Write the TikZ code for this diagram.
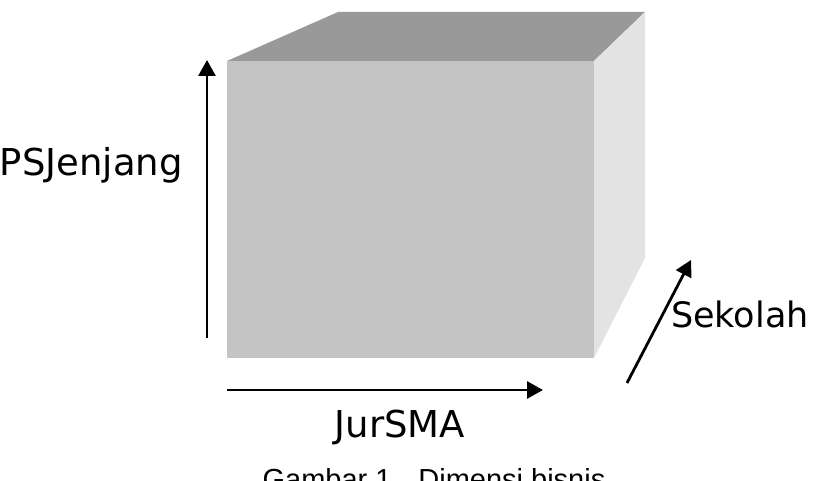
\documentclass[tikz,border=0pt]{standalone}
\usepackage{fontspec}
\setmainfont{DejaVu Sans}
\newfontfamily\captionfont{Liberation Sans}
\usetikzlibrary{arrows.meta, positioning}
\definecolor{topface}{HTML}{999999}
\definecolor{frontface}{HTML}{C4C4C4}
\definecolor{sideface}{HTML}{E3E3E3}

\begin{document}
\begin{tikzpicture}[
    x=1pt, y=-1pt,
    every node/.style={font=\fontsize{37}{40}\selectfont, inner sep=0pt},
    axis/.style={line width=2.8pt, -{Triangle[length=16pt, width=17pt]}}
]
\useasboundingbox (0,0) rectangle (815,481);
\clip (0,0) rectangle (815,481);

% cube corners
\coordinate (ftl) at (227,61);
\coordinate (ftr) at (594,61);
\coordinate (fbl) at (227,358);
\coordinate (fbr) at (594,358);
\coordinate (btl) at (338,12);
\coordinate (btr) at (645,12);
\coordinate (bbr) at (645,258);

\fill [topface] (ftl) -- (btl) -- (btr) -- (ftr) -- cycle;
\fill [sideface] (ftr) -- (btr) -- (bbr) -- (fbr) -- cycle;
\fill [frontface] (ftl) rectangle (fbr);

% axes
\coordinate (vstart) at (207,338);
\coordinate (vend) at (207,60);
\coordinate (hstart) at (227,390);
\coordinate (hend) at (543,390);
\coordinate (dstart) at (627,383);
\coordinate (dend) at (691,260);

\draw [axis] (vstart) -- (vend);
\draw [axis] (hstart) -- (hend);
\draw [axis] (dstart) -- (dend);

\node (psjenjang) [anchor=base east] at (183,176) {PSJenjang};
\node (jursma) [anchor=base] at (400,438) {JurSMA};
\node (sekolah) [anchor=base west, font=\fontsize{35}{40}\selectfont] at (671,328) {Sekolah};
\node (caption) [anchor=base, font=\captionfont\fontsize{29}{32}\selectfont] at (434,489) {Gambar 1 . Dimensi bisnis};

\end{tikzpicture}
\end{document}
